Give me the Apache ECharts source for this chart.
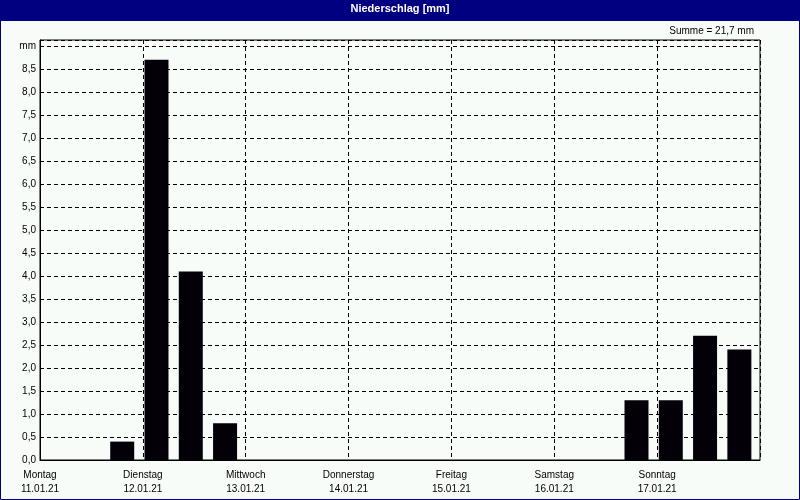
<!DOCTYPE html>
<html>
<head>
<meta charset="utf-8">
<script src="https://cdn.jsdelivr.net/npm/echarts@6/dist/echarts.min.js"></script>
<style>
html,body{margin:0;padding:0;background:#f8fcf8;}
#chart{width:800px;height:500px;}
</style>
</head>
<body>
<div id="chart"></div>
<script>
// 8-hour intervals, Monday 11.01.21 00:00 to Sunday 17.01.21 24:00
const intervals = [
  'Mo 00-08','Mo 08-16','Mo 16-24',
  'Di 00-08','Di 08-16','Di 16-24',
  'Mi 00-08','Mi 08-16','Mi 16-24',
  'Do 00-08','Do 08-16','Do 16-24',
  'Fr 00-08','Fr 08-16','Fr 16-24',
  'Sa 00-08','Sa 08-16','Sa 16-24',
  'So 00-08','So 08-16','So 16-24'
];
const precipitation = [
  0, 0, 0.4,
  8.7, 4.1, 0.8,
  0, 0, 0,
  0, 0, 0,
  0, 0, 0,
  0, 0, 1.3,
  1.3, 2.7, 2.4
];
const dayNames = ['Montag','Dienstag','Mittwoch','Donnerstag','Freitag','Samstag','Sonntag'];
const dayDates = ['11.01.21','12.01.21','13.01.21','14.01.21','15.01.21','16.01.21','17.01.21'];
const yTickLabels = ['0,0','0,5','1,0','1,5','2,0','2,5','3,0','3,5','4,0','4,5','5,0','5,5','6,0','6,5','7,0','7,5','8,0','8,5','mm'];
const titleText = 'Niederschlag [mm]';

const FONT = '"Liberation Sans", Arial, sans-serif';
const total = precipitation.reduce((a, b) => a + b, 0);
const sumText = 'Summe = ' + total.toFixed(1).replace('.', ',') + ' mm';
const dash = [4, 3];

const chart = echarts.init(document.getElementById('chart'), null, {renderer: 'canvas'});
chart.setOption({
  animation: false,
  backgroundColor: '#f8fcf8',
  textStyle: {fontFamily: FONT},
  title: [
    {text: titleText, left: 'center', top: 0, padding: [3, 5],
     textStyle: {color: '#ffffff', fontSize: 11, fontWeight: 'bold', fontFamily: FONT}},
    {text: sumText, right: 41, top: 21,
     textStyle: {color: '#000000', fontSize: 10, fontWeight: 'normal', fontFamily: FONT}}
  ],
  graphic: [
    {type: 'rect', z: -1, shape: {x: 0, y: 0, width: 800, height: 21}, style: {fill: '#000080'}},
    {type: 'rect', z: 100, shape: {x: 0.5, y: 0.5, width: 799, height: 499},
     style: {fill: null, stroke: '#000080', lineWidth: 1}}
  ],
  grid: {left: 40, right: 40, top: 40, bottom: 40, show: true, borderColor: '#000', borderWidth: 1, backgroundColor: 'transparent'},
  xAxis: [
    {type: 'category', data: intervals, boundaryGap: true,
     axisLine: {show: false}, axisTick: {show: false}, axisLabel: {show: false}, splitLine: {show: false}},
    {type: 'value', min: 0, max: 7, interval: 1, position: 'bottom',
     axisLine: {show: true, lineStyle: {color: '#000', width: 1}},
     axisTick: {show: false},
     splitLine: {show: true, lineStyle: {color: '#000', type: dash, width: 1}},
     axisLabel: {show: true, showMinLabel: true, showMaxLabel: true, margin: 8,
       color: '#000', fontSize: 10, lineHeight: 14, fontFamily: FONT,
       formatter: function (v) {
         const i = Math.round(v);
         return i < dayNames.length ? dayNames[i] + '\n' + dayDates[i] : '';
       }}}
  ],
  yAxis: {
    type: 'value', min: 0, max: 9 + 6 / 46, interval: 0.5,
    axisLine: {show: true, lineStyle: {color: '#000', width: 1}},
    axisTick: {show: false},
    splitLine: {show: true, lineStyle: {color: '#000', type: dash, width: 1}},
    axisLabel: {color: '#000', fontSize: 10, margin: 4, fontFamily: FONT, showMaxLabel: true,
      formatter: function (v) {
        const i = Math.round(v / 0.5);
        if (Math.abs(v - i * 0.5) > 1e-6) return '';
        return yTickLabels[i] !== undefined ? yTickLabels[i] : '';
      }}
  },
  series: [
    {type: 'bar', xAxisIndex: 0, data: precipitation, barWidth: 24, barGap: '0%',
     itemStyle: {color: '#040008'}, silent: true},
    {type: 'bar', xAxisIndex: 0, data: [], barWidth: 7, barGap: '0%', silent: true}
  ]
});
</script>
</body>
</html>
